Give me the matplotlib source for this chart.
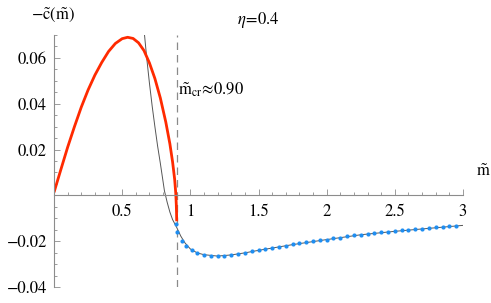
import matplotlib
matplotlib.use("Agg")
import matplotlib.pyplot as plt
from matplotlib.ticker import MultipleLocator, FixedLocator

plt.rcParams['font.family'] = ['STIXGeneral', 'DejaVu Serif']
plt.rcParams['mathtext.fontset'] = 'stix'

# red curve, m < m_cr
red_x = [0.00, 0.05, 0.10, 0.15, 0.20, 0.25, 0.30, 0.35, 0.40, 0.45, 0.50, 0.54,
         0.58, 0.62, 0.66, 0.70, 0.74, 0.78, 0.82, 0.85, 0.87, 0.885, 0.893, 0.897,
         0.899, 0.900]
red_y = [0.0013, 0.0112, 0.0210, 0.0300, 0.0385, 0.0460, 0.0525, 0.0580, 0.0628,
         0.0663, 0.0684, 0.0690, 0.0685, 0.0666, 0.0632, 0.0578, 0.0510, 0.0425,
         0.0320, 0.0225, 0.0145, 0.0070, 0.0010, -0.0040, -0.0080, -0.0113]

# thin gray curve
gray_x = [0.664, 0.68, 0.70, 0.72, 0.74, 0.76, 0.78, 0.80, 0.81, 0.83, 0.85, 0.87,
          0.90, 0.93, 0.96, 1.00, 1.05, 1.10, 1.20, 1.30, 1.40, 1.50, 1.75, 2.00,
          2.25, 2.50, 2.75, 3.00]
gray_y = [0.0700, 0.0600, 0.0490, 0.0390, 0.0300, 0.0215, 0.0140, 0.0060, 0.0020,
          -0.0030, -0.0073, -0.0106, -0.0140, -0.0178, -0.0207, -0.0234, -0.0251,
          -0.0259, -0.0265, -0.0260, -0.0251, -0.0240, -0.0215, -0.0193, -0.0172,
          -0.0157, -0.0144, -0.0131]

# blue dots
dot_x = [0.895, 0.905, 0.94, 0.97, 1.01, 1.05, 1.10, 1.15, 1.20, 1.25, 1.30, 1.35,
         1.40, 1.45, 1.50, 1.55, 1.60, 1.65, 1.70, 1.75, 1.80, 1.85, 1.90, 1.95,
         2.00, 2.05, 2.10, 2.15, 2.20, 2.25, 2.30, 2.35, 2.40, 2.45, 2.50, 2.55,
         2.60, 2.65, 2.70, 2.75, 2.80, 2.85, 2.90, 2.95]
dot_y = [-0.0125, -0.0160, -0.0199, -0.0221, -0.0239, -0.0252, -0.0259, -0.0264,
         -0.0265, -0.0264, -0.0260, -0.0255, -0.0250, -0.0245, -0.0240, -0.0235,
         -0.0230, -0.0225, -0.0219, -0.0214, -0.0209, -0.0205, -0.0201, -0.0197,
         -0.0193, -0.0188, -0.0184, -0.0179, -0.0175, -0.0171, -0.0168, -0.0165,
         -0.0162, -0.0160, -0.0157, -0.0153, -0.0150, -0.0148, -0.0145, -0.0142,
         -0.0139, -0.0136, -0.0134, -0.0132]

m_cr = 0.90
eta = 0.4
x_ticks = [0.5, 1, 1.5, 2, 2.5, 3]
x_labels = ['0.5', '1', '1.5', '2', '2.5', '3']
y_ticks = [-0.04, -0.02, 0.02, 0.04, 0.06]
y_labels = ['\u22120.04', '\u22120.02', '0.02', '0.04', '0.06']

fig = plt.figure(figsize=(4.91, 3.03), dpi=100)
ax = fig.add_axes([54/491, 16/303, 409/491, 252/303])
ax.set_xlim(0, 3)
ax.set_ylim(-0.04, 0.07)

axcol = '#8c8c8c'
ax.spines['top'].set_visible(False)
ax.spines['right'].set_visible(False)
ax.spines['bottom'].set_position(('data', 0))
for s in ['left', 'bottom']:
    ax.spines[s].set_color(axcol)
    ax.spines[s].set_linewidth(0.8)

ax.xaxis.set_major_locator(FixedLocator(x_ticks))
ax.set_xticklabels(x_labels)
ax.xaxis.set_minor_locator(MultipleLocator(0.1))
ax.yaxis.set_major_locator(FixedLocator(y_ticks))
ax.set_yticklabels(y_labels)
ax.yaxis.set_minor_locator(MultipleLocator(0.005))
ax.tick_params(which='both', direction='in', color=axcol, width=0.6,
               labelsize=12, labelcolor='black')
ax.tick_params(which='major', length=4)
ax.tick_params(which='minor', length=2)
ax.tick_params(axis='x', pad=6)
ax.tick_params(axis='y', pad=5)

ax.plot([m_cr, m_cr], [-0.04, 0.07], color='#8a8a8a', lw=0.9, dashes=(6, 4))
ax.plot(gray_x, gray_y, color='#555555', lw=0.7)
ax.plot(red_x, red_y, color='#ff2a00', lw=2.0, solid_capstyle='butt')
ax.plot(dot_x, dot_y, 'o', color='#1f8ef1', ms=3.0, mew=0, clip_on=False)

ax.text(m_cr + 0.01, 0.046, r'$\tilde{\mathrm{m}}_{\mathrm{cr}}\!\approx\!0.90$',
        fontsize=12, ha='left', va='center')
fig.text(258/491, 1 - 20/303, r'$\eta\!=\!0.4$', fontsize=12, ha='center', va='center')
fig.text(53/491, 1 - 15/303, r'$-\tilde{\mathrm{c}}(\tilde{\mathrm{m}})$', fontsize=12,
         ha='center', va='center')
fig.text(483/491, 1 - 172/303, r'$\tilde{\mathrm{m}}$', fontsize=12, ha='center', va='center')

fig.savefig('out.png', dpi=100)
